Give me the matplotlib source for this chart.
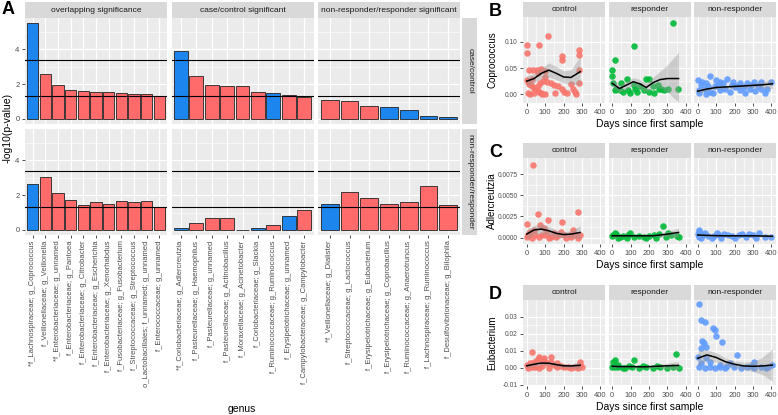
import matplotlib.pyplot as plt

plt.rcParams['font.family'] = ['Liberation Sans', 'DejaVu Sans']

## Panel A: -log10(p) per genus, two comparisons x three groups
groups = ['overlapping significance', 'case/control significant',
          'non-responder/responder significant']
comparisons = ['case/control', 'non-responder/responder']

genus_overlap = ['*f_Lachnospiraceae; g_Coprococcus', 'f_Veillonellaceae; g_Veillonella',
                 '*f_Enterobacteriaceae; g_unnamed', 'f_Enterobacteriaceae; g_Pantoea',
                 'f_Enterobacteriaceae; g_Citrobacter', 'f_Enterobacteriaceae; g_Escherichia',
                 'f_Enterobacteriaceae; g_Xenorhabdus', 'f_Fusobacteriaceae; g_Fusobacterium',
                 'f_Streptococcaceae; g_Streptococcus', 'o_Lactobacillales; f_unnamed; g_unnamed',
                 'f_Enterococcaceae; g_unnamed']
genus_case = ['*f_Coriobacteriaceae; g_Adlercreutzia', 'f_Pasteurellaceae; g_Haemophilus',
              'f_Pasteurellaceae; g_unnamed', 'f_Pasteurellaceae; g_Actinobacillus',
              'f_Moraxellaceae; g_Acinetobacter', 'f_Coriobacteriaceae; g_Slackia',
              'f_Ruminococcaceae; g_Ruminococcus', 'f_Erysipelotrichaceae; g_unnamed',
              'f_Campylobacteraceae; g_Campylobacter']
genus_resp = ['*f_Veillonellaceae; g_Dialister', 'f_Streptococcaceae; g_Lactococcus',
              'f_Erysipelotrichaceae; g_Eubacterium', 'f_Erysipelotrichaceae; g_Coprobacillus',
              'f_Ruminococcaceae; g_Anaerotruncus', 'f_Lachnospiraceae; g_Ruminococcus',
              'f_Desulfovibrionaceae; g_Bilophila']

# case/control row
cc_overlap = [5.5, 2.57, 1.93, 1.66, 1.58, 1.54, 1.52, 1.47, 1.43, 1.45, 1.31]
cc_overlap_dir = ['neg'] + ['pos'] * 10
cc_case = [3.9, 2.44, 1.93, 1.9, 1.87, 1.52, 1.47, 1.35, 1.27]
cc_case_dir = ['neg', 'pos', 'pos', 'pos', 'pos', 'pos', 'neg', 'pos', 'pos']
cc_resp = [1.09, 1.03, 0.73, 0.70, 0.51, 0.17, 0.09]
cc_resp_dir = ['pos', 'pos', 'pos', 'neg', 'neg', 'neg', 'neg']

# non-responder/responder row
nr_overlap = [2.63, 3.03, 2.13, 1.72, 1.41, 1.58, 1.51, 1.64, 1.62, 1.66, 1.31]
nr_overlap_dir = ['neg'] + ['pos'] * 10
nr_case = [0.12, 0.39, 0.68, 0.71, 0.02, 0.10, 0.27, 0.81, 1.16]
nr_case_dir = ['neg', 'pos', 'pos', 'pos', 'pos', 'neg', 'pos', 'neg', 'pos']
nr_resp = [1.49, 2.16, 1.84, 1.51, 1.60, 2.55, 1.41]
nr_resp_dir = ['neg'] + ['pos'] * 6

cutoffs = [1.3, 3.4]

## Panels B-D: abundance over time
status = ['control', 'responder', 'non-responder']

cop_ctrl_days = [0, 0, 66, 117, 194, 194, 282, 282, 282, 282, 152, 10, 35, 55, 80, 100, 60,
                 0, 5, 15, 25, 35, 45, 55, 65, 75, 85, 5, 20, 40, 60, 90, 100, 110, 130, 150,
                 170, 190, 200, 220, 240, 250, 260, 265, 100, 30, 70]
cop_ctrl_vals = [0.094, 0.078, 0.094, 0.110, 0.072, 0.065, 0.084, 0.075, 0.046, 0.021, 0.002,
                 0.046, 0.046, 0.046, 0.048, 0.044, 0.040, 0.028, 0.024, 0.020, 0.018, 0.014,
                 0.010, 0.008, 0.005, 0.003, 0.001, 0.002, 0.001, 0.002, 0.016, 0.026, 0.032,
                 0.024, 0.022, 0.018, 0.015, 0.010, 0.004, 0.002, 0.020, 0.010, 0.004, 0.000,
                 0.000, 0.030, 0.022]
cop_resp_days = [330, 120, 13, 0, 0, 78, 183, 200, 219, 256, 280, 359, 4, 22, 41, 60, 97, 135,
                 153, 228, 247, 265, 116, 125, 172, 303, 13, 50, 88, 200]
cop_resp_vals = [0.136, 0.092, 0.065, 0.046, 0.035, 0.029, 0.030, 0.030, 0.016, 0.0095, 0.008,
                 0.0095, 0.021, 0.011, 0.008, 0.005, 0.002, 0.005, 0.015, 0.002, 0.018, 0.0095,
                 0.018, 0.011, 0.008, 0.0095, 0.008, 0.021, 0.008, 0.005]
cop_nonr_days = [68, 0, 24, 46, 101, 120, 157, 194, 230, 267, 304, 341, 400, 363, 9, 37, 65, 92,
                 120, 148, 175, 203, 230, 258, 286, 313, 341, 378, 9, 46, 83, 18, 55, 110, 140,
                 185, 215, 250, 290, 330]
cop_nonr_vals = [0.035, 0.027, 0.024, 0.021, 0.027, 0.024, 0.030, 0.024, 0.022, 0.021, 0.024,
                 0.024, 0.024, 0.003, 0.008, 0.011, 0.005, 0.015, 0.008, 0.011, 0.005, 0.013,
                 0.008, 0.002, 0.011, 0.007, 0.0095, 0.011, 0.002, 0.001, 0.002, 0.018, 0.016,
                 0.018, 0.021, 0.018, 0.016, 0.013, 0.018, 0.016]

ad_ctrl_days = [33, 63, 115, 279, 190, 0, 74, 37, 93, 19, 112, 149, 177, 205, 233, 260, 288, 9,
                47, 84, 130, 158, 242, 279, 214, 251, 65, 102, 186, 28, 121, 0, 15]
ad_ctrl_vals = [0.0086, 0.0028, 0.0021, 0.0030, 0.0018, 0.0016, 0.0015, 0.0009, 0.0011, 0.0007,
                0.0007, 0.0005, 0.0003, 0.0003, 0.0003, 0.0003, 0.0003, 0.0003, 0.0003, 0.0003,
                0.0001, 0.0001, 0.0001, 0.0, 0.0, 0.0009, 0.0001, 0.0003, 0.0007, 0.0, 0.0,
                0.0001, 0.0005]
ad_resp_days = [277, 4, 13, 22, 41, 60, 88, 116, 144, 172, 200, 228, 256, 321, 350, 360, 303, 97,
                32, 181, 237, 293, 79, 0]
ad_resp_vals = [0.0014, 0.0003, 0.0005, 0.0004, 0.0001, 0.0002, 0.0003, 0.0001, 0.0002, 0.0001,
                0.0002, 0.0003, 0.0004, 0.0003, 0.0002, 0.0001, 0.0005, 0.0005, 0.0, 0.0, 0.0,
                0.0001, 0.0, 0.0002]
ad_nonr_days = [6, 14, 29, 58, 87, 116, 145, 184, 222, 261, 300, 332, 367, 400, 280, 164, 6, 19,
                0, 39, 77, 126, 203, 242, 319, 106, 6]
ad_nonr_vals = [0.0007, 0.0005, 0.0003, 0.0002, 0.0002, 0.0003, 0.0004, 0.0002, 0.0003, 0.0001,
                0.0003, 0.0005, 0.0001, 0.0001, 0.0004, 0.0003, 0.0001, 0.0, 0.0004, 0.0005, 0.0,
                0.0, 0.0, 0.0004, 0.0, 0.0005, 0.0009]

eu_ctrl_days = [28, 130, 288, 65, 93, 0, 19, 37, 56, 74, 93, 112, 130, 149, 167, 186, 205, 223,
                242, 260, 279, 288, 298, 9, 47, 84, 121, 167, 28, 65]
eu_ctrl_vals = [0.0094, 0.0061, 0.0031, 0.0061, 0.0055, 0.0016, 0.0025, 0.0035, 0.0045, 0.0049,
                0.0041, 0.0025, 0.0035, 0.0016, 0.0006, 0.0010, 0.0002, 0.0006, 0.0, 0.0004, 0.0,
                0.0016, 0.0002, 0.0, 0.0006, 0.0010, 0.0, 0.0025, 0.0006, 0.0]
eu_resp_days = [4, 13, 119, 344, 33, 71, 109, 147, 186, 224, 262, 300, 329, 362, 33, 90, 13, 61,
                0, 166, 243]
eu_resp_vals = [0.0035, 0.0045, 0.0045, 0.0080, 0.0002, 0.0, 0.0006, 0.0, 0.0002, 0.0, 0.0006,
                0.0, 0.0002, 0.0, 0.0016, 0.0010, 0.0006, 0.0, 0.0006, 0.0010, 0.0010]
eu_nonr_days = [9, 19, 37, 24, 32, 19, 47, 84, 93, 102, 130, 214, 0, 307, 404, 47, 65, 177, 9,
                37, 65, 93, 121, 149, 195, 233, 270, 307, 344, 372, 121, 158, 19, 288, 381]
eu_nonr_vals = [0.0375, 0.0280, 0.0271, 0.0159, 0.0147, 0.0114, 0.0124, 0.0231, 0.0222, 0.0186,
                0.0153, 0.0075, 0.0065, 0.0035, 0.0018, 0.0055, 0.0035, 0.0029, 0.0002, 0.0,
                0.0006, 0.0, 0.0002, 0.0, 0.0006, 0.0, 0.0002, 0.0, 0.0002, 0.0, 0.0016, 0.0010,
                0.0025, 0.0010, 0.0006]

# loess fits (fit, lower, upper)
ctrl_fit_days = [0, 40, 80, 120, 160, 200, 240, 290]
resp_fit_days = [0, 40, 80, 115, 150, 185, 220, 260, 300, 360]
nonr_fit_days = [0, 50, 100, 150, 200, 250, 300, 350, 405]

cop_ctrl_fit = [0.025, 0.030, 0.040, 0.046, 0.040, 0.033, 0.032, 0.043]
cop_ctrl_lo = [0.016, 0.022, 0.030, 0.033, 0.028, 0.022, 0.020, 0.018]
cop_ctrl_hi = [0.036, 0.039, 0.050, 0.060, 0.053, 0.045, 0.046, 0.072]
cop_resp_fit = [0.021, 0.011, 0.018, 0.024, 0.020, 0.013, 0.022, 0.028, 0.030, 0.030]
cop_resp_lo = [0.012, 0.004, 0.011, 0.016, 0.012, 0.005, 0.012, 0.012, 0.004, -0.015]
cop_resp_hi = [0.030, 0.018, 0.025, 0.032, 0.028, 0.021, 0.032, 0.044, 0.056, 0.080]
cop_nonr_fit = [0.006, 0.010, 0.013, 0.014, 0.015, 0.016, 0.017, 0.018, 0.020]
cop_nonr_lo = [0.001, 0.007, 0.010, 0.011, 0.012, 0.013, 0.013, 0.012, 0.011]
cop_nonr_hi = [0.011, 0.013, 0.016, 0.017, 0.018, 0.019, 0.021, 0.024, 0.029]

ad_ctrl_fit = [0.0004, 0.0009, 0.0010, 0.0008, 0.0005, 0.00035, 0.0004, 0.0006]
ad_ctrl_lo = [-0.0002, 0.0004, 0.0005, 0.0003, 0.0001, 0.0000, 0.0000, -0.0001]
ad_ctrl_hi = [0.0010, 0.0014, 0.0016, 0.0013, 0.0009, 0.0007, 0.0008, 0.0014]
ad_resp_fit = [0.0002, 0.0002, 0.0002, 0.0002, 0.0002, 0.0002, 0.0002, 0.0003, 0.0004, 0.0006]
ad_resp_lo = [0.0000, 0.0001, 0.0001, 0.0001, 0.0001, 0.0001, 0.0001, 0.0001, 0.0001, 0.0000]
ad_resp_hi = [0.0004, 0.0003, 0.0003, 0.0003, 0.0003, 0.0003, 0.0003, 0.0005, 0.0007, 0.0011]
ad_nonr_fit = [0.0003, 0.00025, 0.00022, 0.0002, 0.0002, 0.0002, 0.0002, 0.00018, 0.00015]
ad_nonr_lo = [0.0002, 0.00015, 0.00012, 0.0001, 0.0001, 0.0001, 0.0001, 0.00006, 0.0]
ad_nonr_hi = [0.0004, 0.00035, 0.00032, 0.0003, 0.0003, 0.0003, 0.0003, 0.0003, 0.0003]

eu_ctrl_fit = [0.0011, 0.0020, 0.0027, 0.0026, 0.0018, 0.0011, 0.0010, 0.0014]
eu_ctrl_lo = [-0.0003, 0.0010, 0.0017, 0.0016, 0.0008, 0.0001, -0.0001, -0.0008]
eu_ctrl_hi = [0.0025, 0.0030, 0.0037, 0.0036, 0.0028, 0.0021, 0.0021, 0.0036]
eu_resp_fit = [0.0008, 0.0006, 0.0006, 0.0006, 0.0005, 0.0005, 0.0007, 0.0009, 0.0011, 0.0013]
eu_resp_lo = [-0.0002, 0.0000, 0.0000, 0.0000, -0.0001, -0.0001, 0.0000, -0.0001, -0.0005, -0.0010]
eu_resp_hi = [0.0018, 0.0012, 0.0012, 0.0012, 0.0011, 0.0011, 0.0014, 0.0019, 0.0027, 0.0036]
eu_nonr_fit = [0.0055, 0.0075, 0.0060, 0.0035, 0.0020, 0.0010, 0.0008, 0.0010, 0.0015]
eu_nonr_lo = [0.0010, 0.0045, 0.0032, 0.0012, 0.0000, -0.0012, -0.0022, -0.0040, -0.0080]
eu_nonr_hi = [0.0100, 0.0105, 0.0088, 0.0058, 0.0040, 0.0032, 0.0038, 0.0060, 0.0110]


W, H = 778, 415
fig = plt.figure(figsize=(W / 100, H / 100), dpi=100)

BG = '#EBEBEB'
STRIP = '#D9D9D9'
TICKC = '#4D4D4D'
bar_colors = {'neg': '#1C86EE', 'pos': '#FF6A6A'}
point_colors = ['#F8766D', '#00BA38', '#619CFF']


def pax(x0, y0, x1, y1):
    # axes from pixel box, origin top-left
    return fig.add_axes([x0 / W, 1 - y1 / H, (x1 - x0) / W, (y1 - y0) / H])


def strip(x0, y0, x1, y1, text, rot=0):
    ax = pax(x0, y0, x1, y1)
    ax.set_facecolor(STRIP)
    ax.set_xticks([])
    ax.set_yticks([])
    for s in ax.spines.values():
        s.set_visible(False)
    ax.text(0.5, 0.5, text, rotation=rot, ha='center', va='center',
            fontsize=6, color='#1A1A1A', transform=ax.transAxes)


def grey(ax):
    ax.set_facecolor(BG)
    for s in ax.spines.values():
        s.set_visible(False)
    ax.set_axisbelow(True)
    ax.grid(which='major', color='white', lw=0.9)
    ax.grid(which='minor', color='white', lw=0.45)
    ax.tick_params(which='major', length=2.5, width=0.6, color='#333333',
                   labelsize=5.5, labelcolor=TICKC, pad=1.5)
    ax.tick_params(which='minor', length=0)


## ---- A ----
cols_x = [(25, 167), (171.5, 313.5), (318, 460)]
rows_y = [(18, 124), (129, 235)]
labels_all = [genus_overlap, genus_case, genus_resp]
vals_all = [[cc_overlap, cc_case, cc_resp], [nr_overlap, nr_case, nr_resp]]
dirs_all = [[cc_overlap_dir, cc_case_dir, cc_resp_dir], [nr_overlap_dir, nr_case_dir, nr_resp_dir]]

for j, (x0, x1) in enumerate(cols_x):
    strip(x0, 2, x1, 18, groups[j])
for i, (y0, y1) in enumerate(rows_y):
    strip(462.5, y0, 477, y1, comparisons[i], rot=-90)
    for j, (x0, x1) in enumerate(cols_x):
        ax = pax(x0, y0, x1, y1)
        grey(ax)
        vals = vals_all[i][j]
        n = len(vals)
        xs = list(range(n))
        ax.bar(xs, vals, width=0.9, color=[bar_colors[d] for d in dirs_all[i][j]],
               edgecolor='#222222', linewidth=0.6, zorder=2)
        for c in cutoffs:
            ax.axhline(c, color='black', lw=0.8, zorder=3)
        ax.set_xlim(-0.6, n - 0.4)
        ax.set_ylim(-0.29, 5.8)
        ax.set_yticks([0, 2, 4])
        ax.set_yticks([1, 3, 5], minor=True)
        ax.set_xticks(xs)
        if i == 1:
            ax.set_xticklabels(labels_all[j], rotation=90, fontsize=5.5)
        else:
            ax.tick_params(axis='x', length=0, labelbottom=False)
        if j != 0:
            ax.tick_params(axis='y', length=0, labelleft=False)

fig.text(2 / W, 1 - 1 / H, 'A', fontsize=13, fontweight='bold', va='top', ha='left')
fig.text(8 / W, 1 - 128 / H, '-log10(p-value)', rotation=90, fontsize=7.5,
         ha='center', va='center')
fig.text(242 / W, 1 - 409 / H, 'genus', fontsize=7.5, ha='center', va='center')

## ---- B, C, D ----
facets_x = [(523, 605), (608.5, 690.5), (694, 776)]
fit_days = [ctrl_fit_days, resp_fit_days, nonr_fit_days]

panels = [
    dict(letter='B', name='Coprococcus', strip_y=(2, 17), box_y=(17, 103),
         ylim=(-0.0165, 0.147), yticks=[0, 0.05, 0.10], ylabels=['0.00', '0.05', '0.10'],
         days=[cop_ctrl_days, cop_resp_days, cop_nonr_days],
         vals=[cop_ctrl_vals, cop_resp_vals, cop_nonr_vals],
         fit=[cop_ctrl_fit, cop_resp_fit, cop_nonr_fit],
         lo=[cop_ctrl_lo, cop_resp_lo, cop_nonr_lo],
         hi=[cop_ctrl_hi, cop_resp_hi, cop_nonr_hi]),
    dict(letter='C', name='Adlercreutzia', strip_y=(143, 158), box_y=(158, 244),
         ylim=(-0.00077, 0.00943), yticks=[0, 0.0025, 0.005, 0.0075],
         ylabels=['0.0000', '0.0025', '0.0050', '0.0075'],
         days=[ad_ctrl_days, ad_resp_days, ad_nonr_days],
         vals=[ad_ctrl_vals, ad_resp_vals, ad_nonr_vals],
         fit=[ad_ctrl_fit, ad_resp_fit, ad_nonr_fit],
         lo=[ad_ctrl_lo, ad_resp_lo, ad_nonr_lo],
         hi=[ad_ctrl_hi, ad_resp_hi, ad_nonr_hi]),
    dict(letter='D', name='Eubacterium', strip_y=(285, 300), box_y=(300, 386),
         ylim=(-0.0108, 0.0398), yticks=[-0.01, 0, 0.01, 0.02, 0.03],
         ylabels=['-0.01', '0.00', '0.01', '0.02', '0.03'],
         days=[eu_ctrl_days, eu_resp_days, eu_nonr_days],
         vals=[eu_ctrl_vals, eu_resp_vals, eu_nonr_vals],
         fit=[eu_ctrl_fit, eu_resp_fit, eu_nonr_fit],
         lo=[eu_ctrl_lo, eu_resp_lo, eu_nonr_lo],
         hi=[eu_ctrl_hi, eu_resp_hi, eu_nonr_hi]),
]

for p in panels:
    y0, y1 = p['box_y']
    for k, (x0, x1) in enumerate(facets_x):
        strip(x0, p['strip_y'][0], x1, p['strip_y'][1], status[k])
        ax = pax(x0, y0, x1, y1)
        grey(ax)
        ax.scatter(p['days'][k], p['vals'][k], s=22, color=point_colors[k],
                   linewidths=0, alpha=0.9, zorder=2)
        ax.fill_between(fit_days[k], p['lo'][k], p['hi'][k], color='#999999',
                        alpha=0.4, linewidth=0, zorder=3)
        ax.plot(fit_days[k], p['fit'][k], color='black', lw=1.1, zorder=4)
        ax.set_xlim(-20, 425)
        ax.set_ylim(*p['ylim'])
        ax.set_xticks([0, 100, 200, 300, 400])
        ax.set_xticks([50, 150, 250, 350], minor=True)
        yt = p['yticks']
        ax.set_yticks(yt)
        ax.set_yticks([(a + b) / 2 for a, b in zip(yt[:-1], yt[1:])], minor=True)
        ax.tick_params(axis='y', labelsize=4.8)
        if k == 0:
            ax.set_yticklabels(p['ylabels'])
        else:
            ax.tick_params(axis='y', length=0, labelleft=False)
    fig.text(489 / W, 1 - (p['strip_y'][0] + 1) / H, p['letter'], fontsize=13,
             fontweight='bold', va='top', ha='left')
    fig.text(492 / W, 1 - (y0 + y1) / 2 / H, p['name'], rotation=90, fontsize=7,
             ha='center', va='center')
    fig.text(650 / W, 1 - (y1 + 21) / H, 'Days since first sample', fontsize=7.5,
             ha='center', va='center')

fig.savefig('out.png', dpi=100)
